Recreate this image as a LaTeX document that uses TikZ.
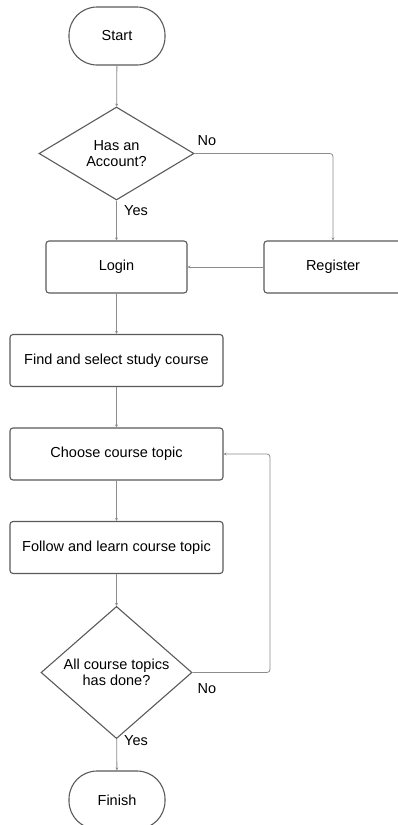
\documentclass[tikz,border=0pt]{standalone}
\usepackage{fontspec}
\setmainfont{Liberation Sans}
\usetikzlibrary{shapes.geometric,arrows.meta}
\definecolor{boxline}{HTML}{5A5A5A}
\definecolor{conn}{HTML}{8C8C8C}
\begin{document}
\begin{tikzpicture}[x=1pt,y=-1pt,
  font=\fontsize{14.5}{17}\selectfont,
  procbox/.style={draw=boxline,line width=1.1pt,rounded corners=3pt,minimum height=52pt,inner sep=0pt},
  term/.style={draw=boxline,line width=1.1pt,rounded corners=28pt,minimum width=96pt,minimum height=58pt,inner sep=0pt},
  decision/.style={draw=boxline,line width=1.1pt,diamond,inner sep=0pt,align=center},
  link/.style={draw=conn,line width=0.8pt,-{Stealth[length=3pt,width=3pt]},rounded corners=3pt},
  lbl/.style={font=\fontsize{14.5}{17}\selectfont}]
\useasboundingbox[fill=white] (0,0) rectangle (398,825);
\node[term] (start) at (117,36) {Start};
\node[decision,minimum width=155pt,minimum height=93pt] (acc) at (116.5,153.5) {Has an\\[-1pt]Account?};
\node[procbox,minimum width=141pt] (login) at (116.5,267) {Login};
\node[procbox,minimum width=138pt] (reg) at (333,267) {Register};
\node[procbox,minimum width=213pt] (find) at (116.5,360.5) {Find and select study course};
\node[procbox,minimum width=213pt] (choose) at (116.5,454) {Choose course topic};
\node[procbox,minimum width=213pt] (follow) at (116.5,547.5) {Follow and learn course topic};
\node[decision,minimum width=151pt,minimum height=115pt] (done) at (116.5,672.5) {All course topics\\[-1pt]has done?};
\node[term] (finish) at (117,800) {Finish};
\coordinate (c1) at (333,153.5);
\coordinate (c2) at (270,672.5);
\coordinate (c3) at (270,454);
\draw[link] (start) -- (acc);
\draw[link] (acc) -- (login);
\draw[link] (acc.east) -- (c1) -- (reg.north);
\draw[link] (reg) -- (login);
\draw[link] (login) -- (find);
\draw[link] (find) -- (choose);
\draw[link] (choose) -- (follow);
\draw[link] (follow) -- (done);
\draw[link] (done) -- (finish);
\draw[link] (done.east) -- (c2) -- (c3) -- (choose.east);
\node[lbl] (no1) at (207,141) {No};
\node[lbl] (yes1) at (136,211) {Yes};
\node[lbl] (no2) at (207,689) {No};
\node[lbl] (yes2) at (136,741) {Yes};
\end{tikzpicture}
\end{document}
